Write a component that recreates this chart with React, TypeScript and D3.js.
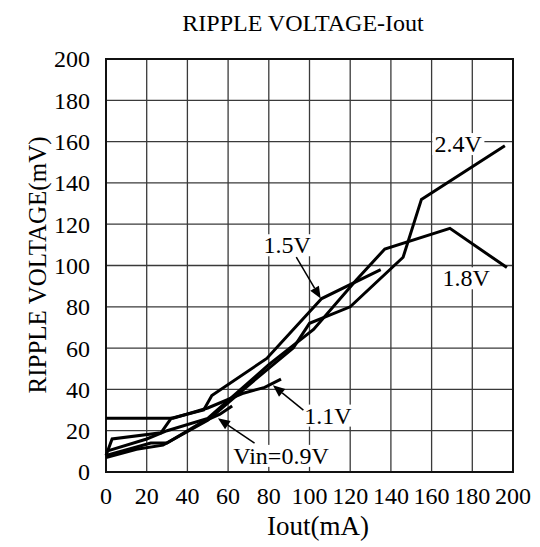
import React, { useEffect, useRef } from 'react';
import * as d3 from 'd3';

type Pt = [number, number];

const xTicks = [0, 20, 40, 60, 80, 100, 120, 140, 160, 180, 200];
const yTicks = [0, 20, 40, 60, 80, 100, 120, 140, 160, 180, 200];

// Iout (mA), ripple (mV)
const vin09: Pt[] = [[0, 8], [22, 14], [30, 14], [47, 24], [56, 28], [62, 32]];
const vin11: Pt[] = [[0, 26], [33, 26], [50, 31], [67, 38], [78, 41], [86, 45]];
const vin15: Pt[] = [[0, 8], [3, 16], [27, 19], [32, 26], [48, 30], [52, 37], [79, 55], [106, 84], [135, 98]];
const vin18: Pt[] = [[0, 10], [20, 16], [30, 20], [50, 26], [80, 52], [102, 69], [123, 93], [137, 108], [169, 118], [197, 99]];
const vin24: Pt[] = [[0, 7], [15, 11], [28, 13], [50, 25], [70, 42], [92, 60], [100, 72], [120, 80], [146, 104], [155, 132], [196, 158]];

const seriesList = [vin09, vin11, vin15, vin18, vin24];

// label, text position, arrow from, arrow to (data units)
type Note = { text: string; at: Pt; from?: Pt; to?: Pt };
const notes: Note[] = [
  { text: '2.4V', at: [173, 159] },
  { text: '1.8V', at: [177, 94] },
  { text: '1.5V', at: [89, 110], from: [93.5, 104], to: [105.5, 84] },
  { text: '1.1V', at: [109, 27.5], from: [97, 30], to: [82, 42] },
  { text: 'Vin=0.9V', at: [86, 8], from: [73, 14], to: [55, 26] },
];

const App: React.FC = () => {
  const ref = useRef<SVGSVGElement>(null);

  useEffect(() => {
    if (!ref.current) return;
    const width = 540;
    const height = 547;
    const svg = d3.select(ref.current);
    svg.selectAll('*').remove();
    svg.attr('width', width).attr('height', height);

    const font = "'Liberation Serif', 'Times New Roman', serif";
    const x = d3.scaleLinear().domain([0, 200]).range([106, 513]);
    const y = d3.scaleLinear().domain([0, 200]).range([472, 59]);

    svg.append('rect').attr('width', width).attr('height', height).attr('fill', '#fff');

    // grid
    const grid = svg.append('g').attr('stroke', '#3a3a3a').attr('stroke-width', 1.3);
    grid
      .selectAll('line.v')
      .data(xTicks.slice(1, -1))
      .enter()
      .append('line')
      .attr('x1', (d) => x(d))
      .attr('x2', (d) => x(d))
      .attr('y1', y(0))
      .attr('y2', y(200));
    grid
      .selectAll('line.h')
      .data(yTicks.slice(1, -1))
      .enter()
      .append('line')
      .attr('x1', x(0))
      .attr('x2', x(200))
      .attr('y1', (d) => y(d))
      .attr('y2', (d) => y(d));

    // frame
    svg
      .append('rect')
      .attr('x', x(0))
      .attr('y', y(200))
      .attr('width', x(200) - x(0))
      .attr('height', y(0) - y(200))
      .attr('fill', 'none')
      .attr('stroke', '#111')
      .attr('stroke-width', 2);

    // tick labels
    svg
      .selectAll('text.xt')
      .data(xTicks)
      .enter()
      .append('text')
      .attr('x', (d) => x(d))
      .attr('y', 504)
      .attr('text-anchor', 'middle')
      .attr('font-family', font)
      .attr('font-size', 24)
      .text((d) => d);
    svg
      .selectAll('text.yt')
      .data(yTicks)
      .enter()
      .append('text')
      .attr('x', 90)
      .attr('y', (d) => y(d))
      .attr('dy', '0.35em')
      .attr('text-anchor', 'end')
      .attr('font-family', font)
      .attr('font-size', 24)
      .text((d) => d);

    // titles
    svg
      .append('text')
      .attr('x', 303)
      .attr('y', 31)
      .attr('text-anchor', 'middle')
      .attr('font-family', font)
      .attr('font-size', 24)
      .text('RIPPLE VOLTAGE-Iout');
    svg
      .append('text')
      .attr('x', 318)
      .attr('y', 535)
      .attr('text-anchor', 'middle')
      .attr('font-family', font)
      .attr('font-size', 27)
      .text('Iout(mA)');
    svg
      .append('text')
      .attr('transform', 'translate(46,265) rotate(-90)')
      .attr('text-anchor', 'middle')
      .attr('font-family', font)
      .attr('font-size', 25)
      .text('RIPPLE VOLTAGE(mV)');

    // curves
    const line = d3
      .line<Pt>()
      .x((d) => x(d[0]))
      .y((d) => y(d[1]));
    svg
      .selectAll('path.curve')
      .data(seriesList)
      .enter()
      .append('path')
      .attr('d', (d) => line(d))
      .attr('fill', 'none')
      .attr('stroke', '#000')
      .attr('stroke-width', 3)
      .attr('stroke-linejoin', 'miter');

    // annotations
    notes.forEach((n) => {
      const t = svg
        .append('text')
        .attr('x', x(n.at[0]))
        .attr('y', y(n.at[1]))
        .attr('dy', '0.35em')
        .attr('text-anchor', 'middle')
        .attr('font-family', font)
        .attr('font-size', 24)
        .text(n.text);
      const bb = (t.node() as SVGTextElement).getBBox();
      svg
        .insert('rect', () => t.node() as SVGTextElement)
        .attr('x', bb.x - 2)
        .attr('y', bb.y + 2)
        .attr('width', bb.width + 4)
        .attr('height', bb.height - 4)
        .attr('fill', '#fff');

      if (n.from && n.to) {
        const x1 = x(n.from[0]);
        const y1 = y(n.from[1]);
        const x2 = x(n.to[0]);
        const y2 = y(n.to[1]);
        const ang = Math.atan2(y2 - y1, x2 - x1);
        const len = 12;
        const w = 5;
        const bx = x2 - len * Math.cos(ang);
        const by = y2 - len * Math.sin(ang);
        svg
          .append('line')
          .attr('x1', x1)
          .attr('y1', y1)
          .attr('x2', bx)
          .attr('y2', by)
          .attr('stroke', '#000')
          .attr('stroke-width', 1.5);
        const px = -Math.sin(ang) * w;
        const py = Math.cos(ang) * w;
        svg
          .append('path')
          .attr('d', `M${x2},${y2}L${bx + px},${by + py}L${bx - px},${by - py}Z`)
          .attr('fill', '#000');
      }
    });
  }, []);

  return <svg ref={ref} style={{ position: 'absolute', left: 0, top: 0 }} />;
};

export default App;
